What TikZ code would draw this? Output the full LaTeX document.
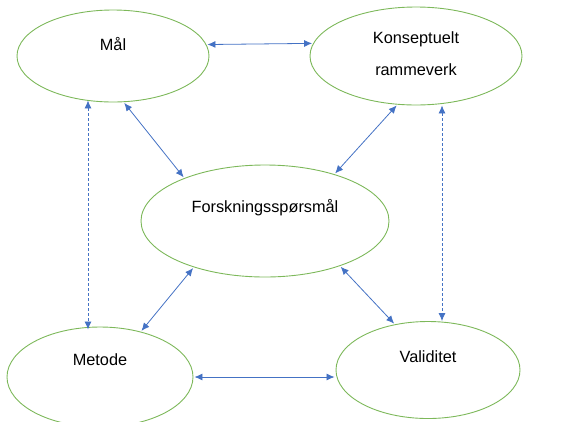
\documentclass[tikz,border=0pt]{standalone}
\usepackage{fontspec}
\setmainfont{Liberation Sans}
\usetikzlibrary{shapes.geometric,arrows.meta,calc}
\definecolor{egreen}{HTML}{7DB85A}
\definecolor{ablue}{HTML}{4472C4}
\tikzset{
  oval/.style={ellipse, draw=egreen, line width=0.9pt, inner sep=0pt},
  lbl/.style={font=\fontsize{16.3}{32}\selectfont, text=black, align=center, inner sep=0pt},
  link/.style={draw=ablue, line width=0.8pt, {Latex[length=8pt,width=7pt]}-{Latex[length=8pt,width=7pt]}, shorten >=1pt, shorten <=1pt},
  dlink/.style={link, dash pattern=on 3pt off 2pt}
}
\begin{document}
\begin{tikzpicture}[x=1pt,y=-1pt]
\useasboundingbox (0,0) rectangle (569,421);
\node[oval, minimum width=192pt, minimum height=92pt] (mal) at (113,56) {};
\node[oval, minimum width=212pt, minimum height=98pt] (kon) at (416,56) {};
\node[oval, minimum width=248pt, minimum height=112pt] (fors) at (265,221) {};
\node[oval, minimum width=186pt, minimum height=100pt] (met) at (100,377) {};
\node[oval, minimum width=184pt, minimum height=97pt] (val) at (428,370) {};

\node[lbl] (malT) at (113,44) {Mål};
\node[lbl] (konT) at (416,54) {Konseptuelt\\rammeverk};
\node[lbl] (forsT) at (265,208) {Forskningsspørsmål};
\node[lbl] (metT) at (100,360) {Metode};
\node[lbl] (valT) at (428,357) {Validitet};

\draw[link] (mal.7) -- (kon.173);
\draw[link] (mal.-77) -- (fors.152);
\draw[link] (kon.-111) -- (fors.34);
\draw[link] (fors.-147) -- (met.48);
\draw[link] (fors.-31) -- (val.126);
\draw[link] (met.east) -- (met.east -| val.west);
\draw[dlink] ($(mal.south)+(-25,-3)$) -- ($(met.north)+(-12,4)$);
\draw[dlink] ($(kon.south)+(26,-1)$) -- ($(val.north)+(14,1)$);
\end{tikzpicture}
\end{document}
